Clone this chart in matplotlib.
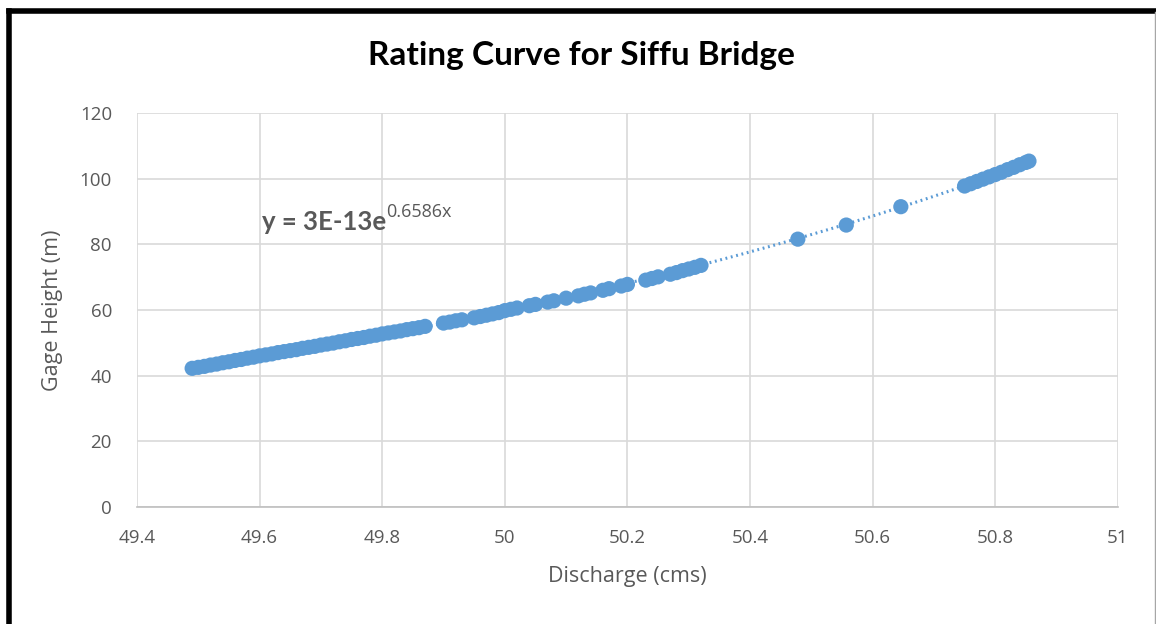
import numpy as np
import matplotlib
matplotlib.use("Agg")
import matplotlib.pyplot as plt
from matplotlib.lines import Line2D

# discharge (cms) and gage height (m)
discharge = [
    49.49, 49.50, 49.51, 49.52, 49.53, 49.54, 49.55, 49.56, 49.57, 49.58,
    49.59, 49.60, 49.61, 49.62, 49.63, 49.64, 49.65, 49.66, 49.67, 49.68,
    49.69, 49.70, 49.71, 49.72, 49.73, 49.74, 49.75, 49.76, 49.77, 49.78,
    49.79, 49.80, 49.81, 49.82, 49.83, 49.84, 49.85, 49.86, 49.87,
    49.90, 49.91, 49.92, 49.93, 49.95, 49.96, 49.97, 49.98, 49.99, 50.00,
    50.01, 50.02, 50.04, 50.05, 50.07, 50.08, 50.10, 50.12, 50.13, 50.14,
    50.16, 50.17, 50.19, 50.20, 50.23, 50.24, 50.25, 50.27, 50.28, 50.29,
    50.30, 50.31, 50.32,
    50.478, 50.557, 50.646,
    50.75, 50.76, 50.77, 50.78, 50.79, 50.80, 50.81, 50.82, 50.83, 50.84,
    50.85, 50.855,
]
gage_height = [
    42.2, 42.5, 42.8, 43.2, 43.5, 43.9, 44.2, 44.6, 44.9, 45.3,
    45.6, 46.0, 46.3, 46.6, 47.0, 47.3, 47.6, 47.9, 48.3, 48.6,
    48.9, 49.3, 49.6, 49.9, 50.3, 50.6, 51.0, 51.3, 51.6, 52.0,
    52.3, 52.7, 53.0, 53.3, 53.6, 54.0, 54.3, 54.6, 55.0,
    56.0, 56.3, 56.7, 57.0, 57.6, 58.0, 58.4, 58.8, 59.2, 59.8,
    60.2, 60.6, 61.3, 61.7, 62.4, 62.8, 63.6, 64.3, 64.8, 65.2,
    66.0, 66.5, 67.3, 67.8, 69.1, 69.6, 70.1, 70.9, 71.4, 72.0,
    72.5, 73.0, 73.6,
    81.6, 85.9, 91.5,
    97.8, 98.5, 99.2, 99.9, 100.6, 101.3, 102.0, 102.8, 103.5, 104.3,
    105.0, 105.4,
]
x_ticks = [49.4, 49.6, 49.8, 50.0, 50.2, 50.4, 50.6, 50.8, 51.0]
x_tick_labels = ["49.4", "49.6", "49.8", "50", "50.2", "50.4", "50.6", "50.8", "51"]
y_ticks = [0, 20, 40, 60, 80, 100, 120]

blue = "#5B9BD5"
grey = "#595959"
plt.rcParams["font.family"] = ["Open Sans", "DejaVu Sans"]

fig = plt.figure(figsize=(11.56, 6.24), dpi=100)
ax = fig.add_axes([0.1185, 0.1880, 0.8485, 0.6305])

# exponential trendline fitted to the points
x = np.array(discharge)
y = np.array(gage_height)
b, ln_a = np.polyfit(x, np.log(y), 1)
xt = np.linspace(x.min(), x.max(), 200)
ax.plot(xt, np.exp(ln_a) * np.exp(b * xt), color=blue, lw=2.2,
        linestyle=(0, (0.6, 1.2)), zorder=2)

ax.scatter(x, y, s=120, color=blue, edgecolors="none", zorder=3)

ax.set_xlim(49.4, 51)
ax.set_ylim(0, 120)
ax.set_xticks(x_ticks)
ax.set_xticklabels(x_tick_labels)
ax.set_yticks(y_ticks)
ax.grid(True, color="#D9D9D9", lw=1.2)
ax.set_axisbelow(True)
for s in ["top", "right", "left"]:
    ax.spines[s].set_visible(False)
ax.spines["bottom"].set_color("#BFBFBF")
ax.spines["bottom"].set_linewidth(1.2)
ax.tick_params(length=0, labelsize=13.5, colors=grey)
ax.tick_params(axis="x", pad=16)
ax.tick_params(axis="y", pad=18)

ax.set_xlabel("Discharge (cms)", fontsize=15.5, color=grey, labelpad=14)
ax.set_ylabel("Gage Height (m)", fontsize=15.5, color=grey, labelpad=12)
fig.suptitle("Rating Curve for Siffu Bridge", x=0.503, y=0.935,
             fontsize=24, fontweight="bold", color="black", family="Lato")

eq = ax.text(49.604, 84.3, "y = 3E-13e", fontsize=18.5, fontweight="bold",
             color=grey, va="baseline", family="Lato")
ax.annotate("0.6586x", xy=(1, 0.55), xycoords=eq, fontsize=13,
            color=grey, va="bottom", ha="left")

# outer frame of the pasted image
fig.add_artist(Line2D([0.0078, 1.0], [0.982, 0.982], color="black", lw=4))
fig.add_artist(Line2D([0.0078, 0.0078], [0.0, 0.982], color="black", lw=4))
fig.add_artist(Line2D([0.999, 0.999], [0.0, 0.98], color="#A6A6A6", lw=1))

fig.savefig("out.png", dpi=100)
